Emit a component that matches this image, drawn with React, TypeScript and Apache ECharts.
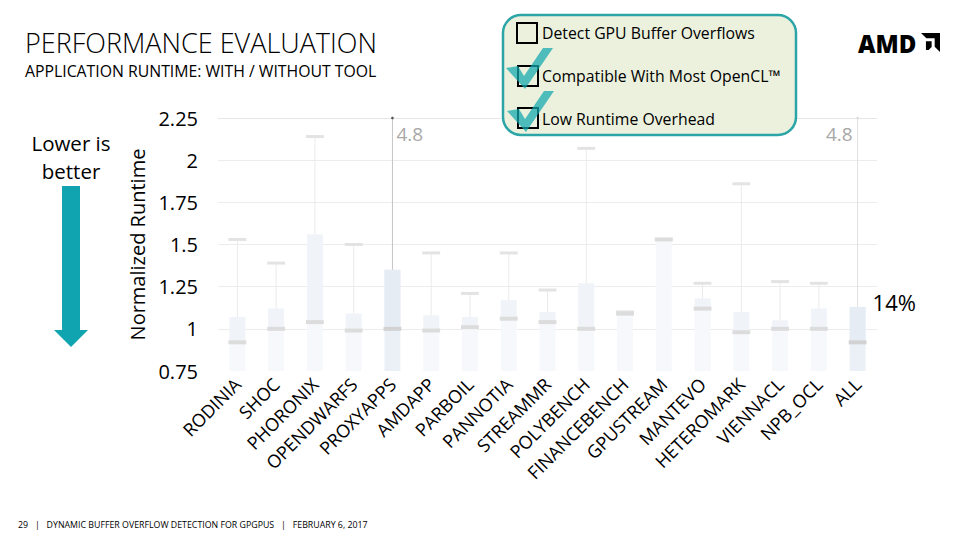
import React, { useEffect, useRef } from "react";
import * as echarts from "echarts";

const categories = [
  "RODINIA", "SHOC", "PHORONIX", "OPENDWARFS", "PROXYAPPS", "AMDAPP", "PARBOIL",
  "PANNOTIA", "STREAMMR", "POLYBENCH", "FINANCEBENCH", "GPUSTREAM", "MANTEVO",
  "HETEROMARK", "VIENNACL", "NPB_OCL", "ALL",
];
const boxTop = [1.07, 1.12, 1.56, 1.09, 1.35, 1.08, 1.07, 1.17, 1.1, 1.27, 1.1, 1.53, 1.18, 1.1, 1.05, 1.12, 1.13];
const medians = [0.92, 1.0, 1.04, 0.99, 1.0, 0.99, 1.01, 1.06, 1.04, 1.0, 1.09, 1.53, 1.12, 0.98, 1.0, 1.0, 0.92];
const maxima = [1.53, 1.39, 2.14, 1.5, 4.8, 1.45, 1.21, 1.45, 1.23, 2.07, 1.1, 1.53, 1.27, 1.86, 1.28, 1.27, 4.8];
const highlighted = ["PROXYAPPS", "ALL"];
const outlierLabelSide: Record<string, string> = { PROXYAPPS: "right", ALL: "left" };
const annotations = [{ category: "ALL", text: "14%" }];
const yMin = 0.75;
const yMax = 2.25;
const yStep = 0.25;

const FONT = "'Open Sans', 'Noto Sans', sans-serif";

echarts.graphic.registerShape(
  "amdLogo",
  echarts.graphic.extendPath("M0 0 H100 V100 L72 72 V28 H28 Z M26 44 H56 V74 L40 90 H26 Z", {})
);

export default function App() {
  const ref = useRef<HTMLDivElement>(null);
  useEffect(() => {
    if (!ref.current) return;
    const chart = echarts.init(ref.current, undefined, { renderer: "svg" });
    const data = categories.map((c, i) => [i, boxTop[i], medians[i], maxima[i]]);

    const renderItem = (params: any, api: any) => {
      const i = api.value(0);
      const top = api.value(1);
      const med = api.value(2);
      const mx = api.value(3);
      const cat = categories[i];
      const hl = highlighted.includes(cat);
      const band = api.size([1, 0])[0];
      const bw = band * 0.41;
      const cw = band * 0.46;
      const pBase = api.coord([i, yMin]);
      const pTop = api.coord([i, top]);
      const pMed = api.coord([i, med]);
      const pMax = api.coord([i, Math.min(mx, yMax)]);
      const cx = pBase[0];
      const children: any[] = [];
      const lowerY = Math.min(pMed[1], pTop[1]);
      children.push({
        type: "rect",
        shape: { x: cx - bw / 2, y: lowerY, width: bw, height: pBase[1] - lowerY },
        style: { fill: hl ? "#ebf0f6" : "#f6f8fb" },
      });
      if (pMed[1] > pTop[1]) {
        children.push({
          type: "rect",
          shape: { x: cx - bw / 2, y: pTop[1], width: bw, height: pMed[1] - pTop[1] },
          style: { fill: hl ? "#e5ecf4" : "#f0f4f8" },
        });
      }
      if (mx > top) {
        children.push({
          type: "line",
          shape: { x1: cx, y1: pTop[1], x2: cx, y2: pMax[1] },
          style: { stroke: cat === "PROXYAPPS" ? "#c4c4c4" : hl ? "#e0e0e0" : "#ebebeb", lineWidth: 1 },
        });
      }
      if (mx <= yMax) {
        children.push({
          type: "rect",
          shape: { x: cx - cw / 2, y: pMax[1] - 1.5, width: cw, height: 3 },
          style: { fill: "#e3e3e3" },
        });
      } else {
        children.push({
          type: "circle",
          shape: { cx, cy: pMax[1], r: 1.3 },
          style: { fill: cat === "PROXYAPPS" ? "#555" : "#ddd" },
        });
        const side = outlierLabelSide[cat] || "right";
        children.push({
          type: "text",
          style: {
            text: String(mx),
            x: side === "right" ? cx + 4 : cx - 5,
            y: pMax[1] + 16,
            align: side === "right" ? "left" : "right",
            verticalAlign: "middle",
            fill: "#a8a8a8",
            font: `19px ${FONT}`,
          },
        });
      }
      children.push({
        type: "rect",
        shape: { x: cx - cw / 2, y: pMed[1] - 2, width: cw, height: 4 },
        style: { fill: hl ? "#d2d2d2" : "#dcdcdc" },
      });
      annotations
        .filter((a) => a.category === cat)
        .forEach((a) => {
          children.push({
            type: "text",
            style: {
              text: a.text,
              x: cx + 15,
              y: pTop[1] - 5,
              align: "left",
              verticalAlign: "middle",
              fill: "#000",
              font: `22px ${FONT}`,
            },
          });
        });
      return { type: "group", children };
    };

    const check = (dx: number, dy: number) => ({
      type: "polygon",
      shape: {
        points: [
          [506 + dx, 68 + dy], [518 + dx, 66 + dy], [524 + dx, 76 + dy],
          [543 + dx, 48 + dy], [553 + dx, 48 + dy], [525 + dx, 89 + dy],
        ],
      },
      style: { fill: "rgba(18,168,174,0.72)" },
      z: 10,
    });

    chart.setOption({
      animation: false,
      grid: { left: 218, right: 83, top: 118, bottom: 169 },
      xAxis: {
        type: "category",
        data: categories,
        axisLine: { show: false },
        axisTick: { show: false },
        axisLabel: { rotate: 45, margin: 10, fontSize: 18, color: "#000", fontFamily: FONT, interval: 0 },
      },
      yAxis: {
        type: "value",
        min: yMin,
        max: yMax,
        interval: yStep,
        name: "Normalized Runtime",
        nameLocation: "middle",
        nameGap: 70,
        nameTextStyle: { fontSize: 20, color: "#000", fontFamily: FONT },
        axisLine: { show: false },
        axisTick: { show: false },
        axisLabel: { fontSize: 20, color: "#000", fontFamily: FONT, margin: 20 },
        splitLine: {
          lineStyle: {
            color: ["rgba(0,0,0,0)", "#ececec", "#ececec", "#ececec", "#ececec", "#ececec", "#e6e6e6"],
          },
        },
      },
      series: [
        {
          type: "custom",
          renderItem,
          data,
          clip: false,
          encode: { x: 0, y: 1 },
        },
      ],
      graphic: [
        {
          type: "text",
          style: { text: "PERFORMANCE EVALUATION", x: 25, y: 42, verticalAlign: "middle", fill: "#000", font: `300 27px ${FONT}` },
        },
        {
          type: "text",
          style: { text: "APPLICATION RUNTIME: WITH / WITHOUT TOOL", x: 25, y: 71, verticalAlign: "middle", fill: "#000", font: `15.8px ${FONT}` },
        },
        {
          type: "text",
          style: { text: "Lower is", x: 71, y: 143, align: "center", verticalAlign: "middle", fill: "#000", font: `20.5px ${FONT}` },
        },
        {
          type: "text",
          style: { text: "better", x: 71, y: 171, align: "center", verticalAlign: "middle", fill: "#000", font: `20.5px ${FONT}` },
        },
        {
          type: "polygon",
          shape: { points: [[62, 186], [80, 186], [80, 330], [88, 330], [71, 347], [54, 330], [62, 330]] },
          style: { fill: "#10a4b0" },
        },
        {
          type: "rect",
          shape: { x: 503, y: 15, width: 293, height: 120, r: 18 },
          style: { fill: "#ebf1dd", stroke: "#2ba5a7", lineWidth: 2.5 },
          z: 5,
        },
        { type: "rect", shape: { x: 517, y: 23, width: 20, height: 20 }, style: { fill: "none", stroke: "#000", lineWidth: 2 }, z: 6 },
        { type: "rect", shape: { x: 518, y: 66, width: 20, height: 20 }, style: { fill: "none", stroke: "#000", lineWidth: 2 }, z: 6 },
        { type: "rect", shape: { x: 518, y: 108, width: 20, height: 20 }, style: { fill: "none", stroke: "#000", lineWidth: 2 }, z: 6 },
        { type: "text", style: { text: "Detect GPU Buffer Overflows", x: 542, y: 33, verticalAlign: "middle", fill: "#000", font: `15.8px ${FONT}` }, z: 6 },
        { type: "text", style: { text: "Compatible With Most OpenCL™", x: 542, y: 76, verticalAlign: "middle", fill: "#000", font: `15.8px ${FONT}` }, z: 6 },
        { type: "text", style: { text: "Low Runtime Overhead", x: 542, y: 119, verticalAlign: "middle", fill: "#000", font: `15.8px ${FONT}` }, z: 6 },
        check(0, 0),
        check(1, 43),
        {
          type: "text",
          style: { text: "AMD", x: 858, y: 43, verticalAlign: "middle", fill: "#000", font: `900 24px ${FONT}` },
        },
        { type: "amdLogo", x: 921, y: 33, scaleX: 0.19, scaleY: 0.19, style: { fill: "#000" } },
        {
          type: "text",
          style: {
            text: "29   |   DYNAMIC BUFFER OVERFLOW DETECTION FOR GPGPUS   |   FEBRUARY 6, 2017",
            x: 18, y: 525, verticalAlign: "middle", fill: "#000", font: `8.8px ${FONT}`,
          },
        },
      ],
    });
    return () => chart.dispose();
  }, []);
  return (
    <div
      ref={ref}
      style={{ position: "fixed", left: 0, top: 0, width: 960, height: 540, background: "#fff" }}
    />
  );
}
